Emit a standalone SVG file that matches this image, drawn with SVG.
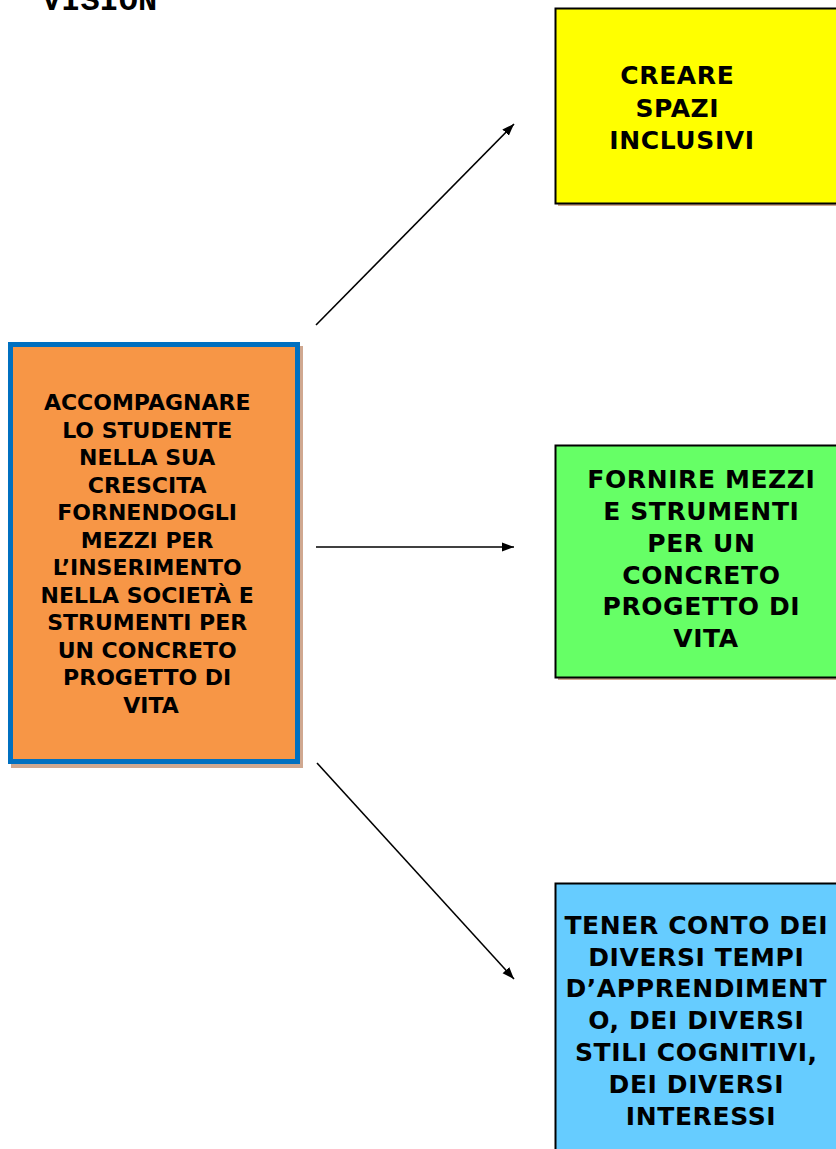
<svg xmlns="http://www.w3.org/2000/svg" width="836" height="1149" viewBox="0 0 836 1149">
<style>
.t{font-family:"DejaVu Sans","Verdana",sans-serif;font-weight:bold;fill:#000;text-anchor:middle}
.r{font-size:25px;letter-spacing:0.6px}
.s{fill:#D0A890}
.c{stroke:#000;stroke-width:1.6;fill:none;marker-end:url(#ah)}
</style>
<defs>
<marker id="ah" viewBox="0 0 12 10" refX="12" refY="5" markerWidth="12" markerHeight="10" markerUnits="userSpaceOnUse" orient="auto">
<path d="M0,0.5 L12,5 L0,9.5 Z" fill="#000"/>
</marker>
</defs>
<rect width="836" height="1149" fill="#fff"/>
<text x="42" y="10" font-family="Liberation Mono, monospace" font-weight="bold" font-size="32">VISION</text>
<g id="connectors">
<line class="c" x1="316" y1="325" x2="514" y2="124"/>
<line class="c" x1="316" y1="547" x2="514" y2="547"/>
<line class="c" x1="317" y1="763" x2="514" y2="979"/>
</g>
<g id="main">
<rect class="s" x="11" y="346" width="292" height="422"/>
<rect x="10.5" y="344.5" width="287" height="417" fill="#F79646" stroke="#0070C0" stroke-width="5"/>
<text class="t" font-size="22">
<tspan x="151" y="410">ACCOMPAGNARE</tspan>
<tspan x="151" y="437.5">LO STUDENTE</tspan>
<tspan x="151" y="465">NELLA SUA</tspan>
<tspan x="151" y="492.5">CRESCITA</tspan>
<tspan x="151" y="520">FORNENDOGLI</tspan>
<tspan x="151" y="547.5">MEZZI PER</tspan>
<tspan x="151" y="575">L’INSERIMENTO</tspan>
<tspan x="151" y="602.5">NELLA SOCIETÀ E</tspan>
<tspan x="151" y="630">STRUMENTI PER</tspan>
<tspan x="151" y="657.5">UN CONCRETO</tspan>
<tspan x="151" y="685">PROGETTO DI</tspan>
<tspan x="151" y="712.5">VITA</tspan>
</text>
</g>
<g id="yellow">
<rect class="s" x="558" y="11" width="290" height="195"/>
<rect x="555.5" y="8.5" width="290" height="195" fill="#FFFF00" stroke="#000" stroke-width="2"/>
<text class="t r">
<tspan x="682" y="84">CREARE</tspan>
<tspan x="682" y="116.5">SPAZI</tspan>
<tspan x="682" y="149">INCLUSIVI</tspan>
</text>
</g>
<g id="green">
<rect class="s" x="558" y="448" width="290" height="232"/>
<rect x="555.5" y="445.5" width="290" height="232" fill="#66FF66" stroke="#000" stroke-width="2"/>
<text class="t r">
<tspan x="706" y="488">FORNIRE MEZZI</tspan>
<tspan x="706" y="520">E STRUMENTI</tspan>
<tspan x="706" y="551.5">PER UN</tspan>
<tspan x="706" y="583.5">CONCRETO</tspan>
<tspan x="706" y="615">PROGETTO DI</tspan>
<tspan x="706" y="647">VITA</tspan>
</text>
</g>
<g id="blue">
<rect x="555.5" y="883.5" width="290" height="280" fill="#66CCFF" stroke="#000" stroke-width="2"/>
<text class="t r">
<tspan x="701" y="934">TENER CONTO DEI</tspan>
<tspan x="701" y="965.5">DIVERSI TEMPI</tspan>
<tspan x="701" y="997">D’APPRENDIMENT</tspan>
<tspan x="701" y="1029">O, DEI DIVERSI</tspan>
<tspan x="701" y="1061">STILI COGNITIVI,</tspan>
<tspan x="701" y="1093">DEI DIVERSI</tspan>
<tspan x="701" y="1125">INTERESSI</tspan>
</text>
</g>
</svg>
